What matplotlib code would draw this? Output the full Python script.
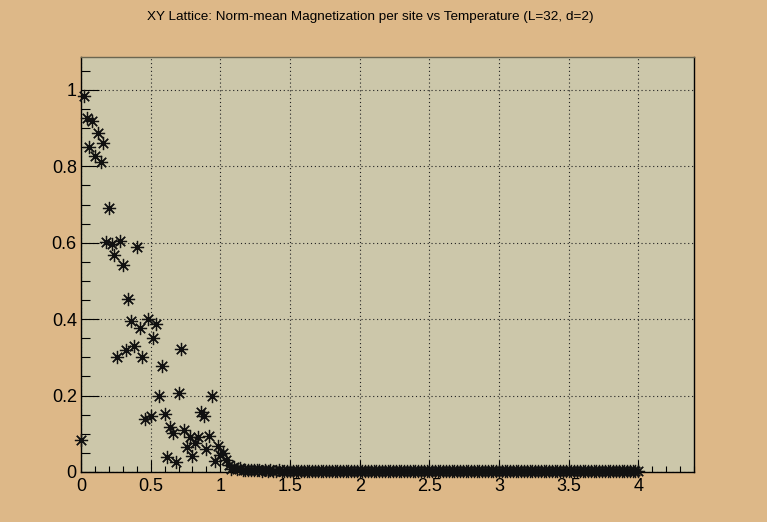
import numpy as np
import matplotlib
matplotlib.use('Agg')
import matplotlib.pyplot as plt
from matplotlib.ticker import MultipleLocator

plt.rcParams['font.family'] = ['Liberation Sans', 'DejaVu Sans']

TITLE = 'XY Lattice: Norm-mean Magnetization per site vs Temperature (L=32, d=2)'

# temperature grid, step 0.02 from 0 to 4
temperature = np.round(np.arange(0, 4.001, 0.02), 2)

# T = 0.00 ... 1.20
mag_low = [0.083, 0.985, 0.926, 0.850, 0.920, 0.828, 0.888, 0.812, 0.862, 0.603,
           0.692, 0.597, 0.568, 0.302, 0.605, 0.542, 0.319, 0.452, 0.395, 0.331,
           0.590, 0.376, 0.302, 0.138, 0.400, 0.147, 0.352, 0.387, 0.200, 0.277,
           0.153, 0.040, 0.119, 0.103, 0.027, 0.206, 0.323, 0.110, 0.066, 0.091,
           0.042, 0.077, 0.092, 0.158, 0.147, 0.059, 0.094, 0.200, 0.028, 0.068,
           0.045, 0.049, 0.031, 0.019, 0.008, 0.012, 0.008, 0.010, 0.006, 0.005,
           0.006]

# T = 1.22 ... 4.00 (flat, close to zero)
mag_high = [0.005, 0.004, 0.005, 0.004, 0.003, 0.004, 0.003, 0.004, 0.003, 0.003,
            0.004, 0.003, 0.003, 0.002, 0.003, 0.003, 0.002, 0.003, 0.003, 0.002,
            0.003, 0.002, 0.003, 0.002, 0.002, 0.003, 0.002, 0.002, 0.003, 0.002,
            0.002, 0.002, 0.003, 0.002, 0.002, 0.002, 0.002, 0.003, 0.002, 0.002,
            0.002, 0.002, 0.002, 0.003, 0.002, 0.002, 0.002, 0.002, 0.002, 0.002,
            0.002, 0.003, 0.002, 0.002, 0.002, 0.002, 0.002, 0.002, 0.002, 0.002,
            0.002, 0.002, 0.002, 0.002, 0.003, 0.002, 0.002, 0.002, 0.002, 0.002,
            0.002, 0.002, 0.002, 0.002, 0.002, 0.002, 0.002, 0.002, 0.002, 0.002,
            0.002, 0.002, 0.002, 0.002, 0.002, 0.002, 0.002, 0.002, 0.002, 0.002,
            0.002, 0.002, 0.002, 0.002, 0.002, 0.002, 0.002, 0.002, 0.002, 0.002,
            0.002, 0.002, 0.002, 0.002, 0.002, 0.002, 0.002, 0.002, 0.002, 0.002,
            0.002, 0.002, 0.002, 0.002, 0.002, 0.002, 0.002, 0.002, 0.002, 0.002,
            0.002, 0.002, 0.002, 0.002, 0.002, 0.002, 0.002, 0.002, 0.002, 0.002,
            0.002, 0.002, 0.002, 0.002, 0.002, 0.002, 0.002, 0.002, 0.002, 0.002]

magnetization = np.array(mag_low + mag_high)

canvas_col = '#ddb888'
frame_col = '#ccc7aa'

fig = plt.figure(figsize=(7.67, 5.22), dpi=100, facecolor=canvas_col)
ax = fig.add_axes([81/767, 1 - 472/522, 613/767, 414.5/522])
ax.set_facecolor(frame_col)

ax.plot(temperature, magnetization, linestyle='none', marker=(8, 2, 0),
        markersize=9.5, markeredgewidth=0.9, color='#111111', clip_on=False, zorder=3)

ax.set_xlim(0, 4.4)
ax.set_ylim(0, 1.085)

ax.xaxis.set_major_locator(MultipleLocator(0.5))
ax.xaxis.set_minor_locator(MultipleLocator(0.1))
ax.yaxis.set_major_locator(MultipleLocator(0.2))
ax.yaxis.set_minor_locator(MultipleLocator(0.05))

ax.xaxis.set_major_formatter(plt.FuncFormatter(lambda v, p: '%g' % round(v, 2)))
ax.yaxis.set_major_formatter(plt.FuncFormatter(lambda v, p: '%g' % round(v, 2)))

ax.tick_params(axis='both', which='both', direction='in', colors='black',
               labelsize=13, top=False, right=False)
ax.tick_params(axis='x', which='major', length=8.6, width=0.8, pad=4)
ax.tick_params(axis='x', which='minor', length=4.3, width=0.8)
ax.tick_params(axis='y', which='major', length=13.2, width=0.8, pad=3)
ax.tick_params(axis='y', which='minor', length=6.6, width=0.8)

ax.grid(True, which='major', color='#222222', linestyle=(0, (1, 2.5)), linewidth=0.8)
ax.set_axisbelow(True)

for side in ['left', 'bottom', 'right']:
    ax.spines[side].set_color('black')
    ax.spines[side].set_linewidth(1.0)
ax.spines['top'].set_color('#6b6650')
ax.spines['top'].set_linewidth(1.0)

fig.text(370/767, 1 - 17/522, TITLE, ha='center', va='center', fontsize=9.7)

fig.savefig('out.png', dpi=100, facecolor=canvas_col)
